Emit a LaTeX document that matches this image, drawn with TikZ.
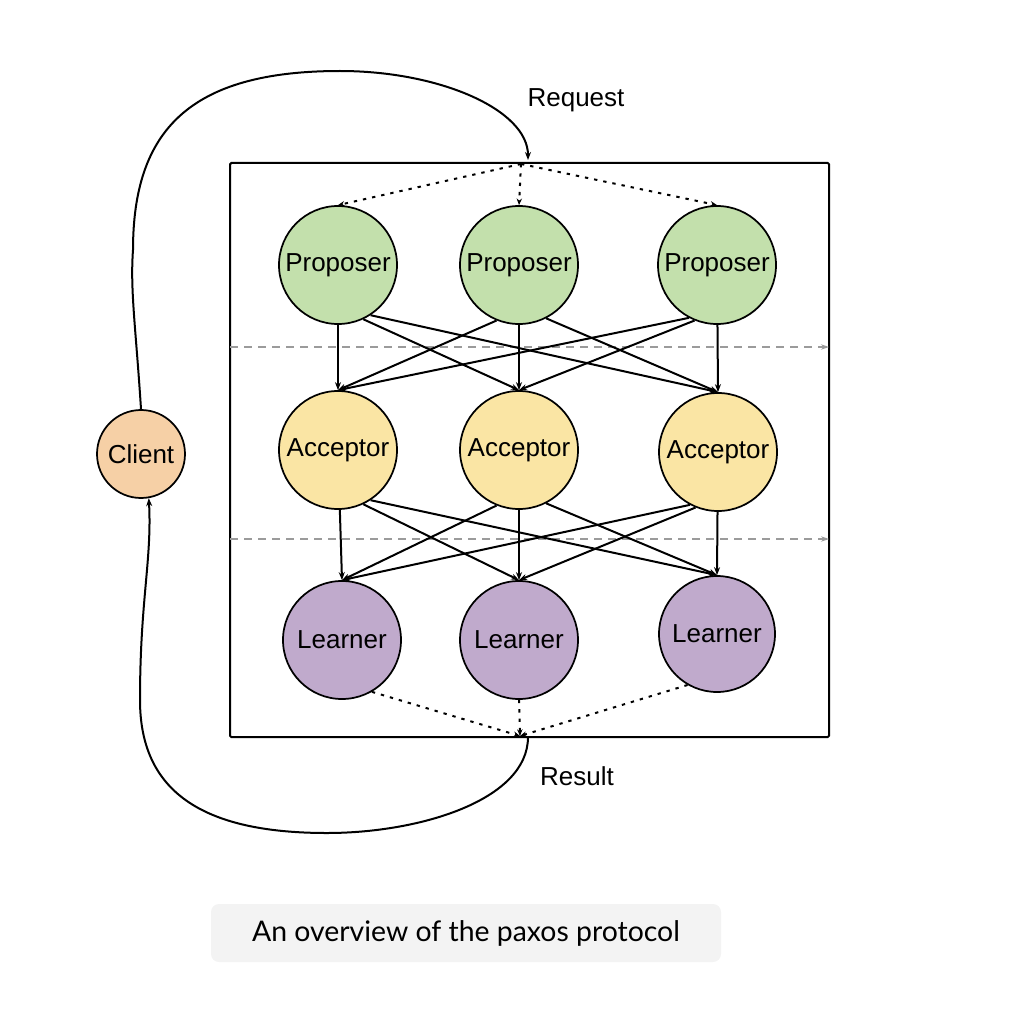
\documentclass[tikz,border=0pt]{standalone}
\usepackage{fontspec}
\setmainfont{Liberation Sans}
\newfontfamily\capfont{Lato}
\usetikzlibrary{arrows.meta}

\definecolor{propgreen}{RGB}{195,224,172}
\definecolor{accyellow}{RGB}{250,229,164}
\definecolor{learnpurple}{RGB}{192,170,204}
\definecolor{clientorange}{RGB}{246,208,166}
\definecolor{phasegray}{RGB}{155,155,155}
\definecolor{capgray}{RGB}{243,243,243}

\begin{document}
\begin{tikzpicture}[x=0.75pt,y=0.75pt,yscale=-1,
    role/.style={align=center, minimum size=88.5pt, inner sep=0pt, draw, circle, line width=1.3pt, font=\fontsize{19.5}{23}\selectfont},
    prop/.style={role, fill=propgreen},
    acc/.style={role, fill=accyellow},
    learn/.style={role, fill=learnpurple},
    cli/.style={role, minimum size=66pt, fill=clientorange},
    lbl/.style={font=\fontsize{19.5}{23}\selectfont},
    msg/.style={-{Stealth[length=6pt,width=4.5pt]}, line width=1.5pt},
    note/.style={-{Stealth[length=5pt,width=4pt]}, line width=1.5pt, dash pattern=on 2.5pt off 4.5pt},
    phase/.style={-{Stealth[length=6pt,width=4pt]}, line width=1.2pt, color=phasegray, dash pattern=on 6pt off 4.5pt},
    capbox/.style={fill=capgray, rounded corners=6pt, minimum width=382.5pt, minimum height=43.5pt, font=\capfont\fontsize{21.3}{25}\selectfont}]

    \useasboundingbox (0,0) rectangle (1012,1020);

    % outer box
    \draw [line width=1.5pt, rounded corners=1pt] (230,163) rectangle (829,737);

    \draw (338,265) node [prop] (p1) {Proposer};
    \draw (519,265) node [prop] (p2) {Proposer};
    \draw (717,265) node [prop] (p3) {Proposer};
    \draw (338,450) node [acc] (a1) {Acceptor};
    \draw (519,450) node [acc] (a2) {Acceptor};
    \draw (718,452) node [acc] (a3) {Acceptor};
    \draw (342,640) node [learn] (l1) {Learner};
    \draw (519,640) node [learn] (l2) {Learner};
    \draw (717,634) node [learn, minimum size=87pt] (l3) {Learner};
    \draw (141,454) node [cli] (client) {Client};

    \draw (576,100) node [lbl] (request) {Request};
    \draw (577,776) node [lbl] (result) {Result};
    \draw (466,933) node [capbox] (caption) {An overview of the paxos protocol};

    \coordinate (reqin) at (528,160);
    \coordinate (hub) at (521,164);
    \coordinate (sink) at (520,736);
    \coordinate (resout) at (528,737);
    \coordinate (g1s) at (230,347);
    \coordinate (g1e) at (829,347);
    \coordinate (g2s) at (230,539);
    \coordinate (g2e) at (829,539);

    % client loop
    \draw [msg] (client.north) .. controls (136,330) and (130,290) .. (133,250)
        .. controls (133,130) and (190,71) .. (340,71)
        .. controls (440,71) and (528,110) .. (reqin);
    \draw [msg] (resout) .. controls (528,800) and (420,833) .. (327,833)
        .. controls (200,833) and (140,790) .. (140,700)
        .. controls (140,600) and (152,560) .. (client.-80);

    \draw [note] (hub) -- (p1.north);
    \draw [note] (hub) -- (p2.north);
    \draw [note] (hub) -- (p3.north);

    \draw [phase] (g1s) -- (g1e);
    \draw [phase] (g2s) -- (g2e);

    \draw [msg] (p1) -- (a1.north);
    \draw [msg] (p1.-65) -- (a2.north);
    \draw [msg] (p1.-57) -- (a3.north);
    \draw [msg] (p2.-112) -- (a1.north);
    \draw [msg] (p2) -- (a2.north);
    \draw [msg] (p2.-63) -- (a3.north);
    \draw [msg] (p3.-118) -- (a1.north);
    \draw [msg] (p3.-112) -- (a2.north);
    \draw [msg] (p3) -- (a3.north);

    \draw [msg] (a1) -- (l1.north);
    \draw [msg] (a1.-65) -- (l2.north);
    \draw [msg] (a1.-57) -- (l3.north);
    \draw [msg] (a2.-112) -- (l1.north);
    \draw [msg] (a2) -- (l2.north);
    \draw [msg] (a2.-63) -- (l3.north);
    \draw [msg] (a3.-118) -- (l1.north);
    \draw [msg] (a3.-112) -- (l2.north);
    \draw [msg] (a3) -- (l3.north);

    \draw [note] (l1.-60) -- (sink);
    \draw [note] (l2.south) -- (sink);
    \draw [note] (l3.-120) -- (sink);

\end{tikzpicture}
\end{document}
